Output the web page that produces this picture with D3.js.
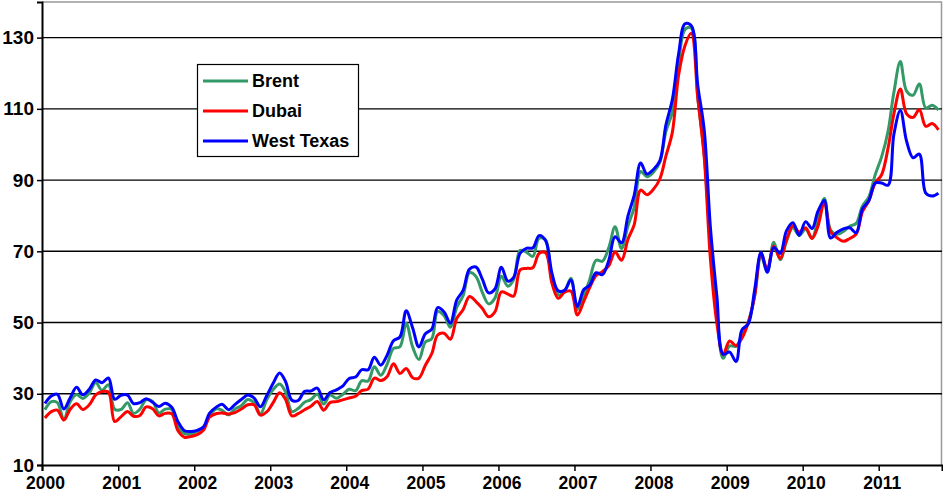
<!DOCTYPE html>
<html>
<head>
<meta charset="utf-8">
<script src="https://cdn.jsdelivr.net/npm/d3@7"></script>
<style>
  body { margin: 0; background: #fff; }
  text { font-family: "Liberation Sans", Arial, sans-serif; font-weight: bold; }
</style>
</head>
<body>
<div id="chart"></div>
<script>
var width = 943, height = 494;
var margin = {top: 2, right: 1, bottom: 29, left: 42};

// monthly averages, Jan 2000 - Oct 2011 (US$/barrel)
var brent = [
  25.51, 27.78, 27.49, 22.76, 27.74, 29.80, 28.68, 30.20, 33.14, 30.96, 32.55, 25.66,
  25.62, 27.50, 24.50, 25.66, 28.31, 27.85, 24.61, 25.68, 25.62, 20.54, 18.80, 18.71,
  19.42, 20.28, 23.70, 25.73, 25.35, 24.08, 25.74, 26.65, 28.40, 27.54, 24.34, 28.33,
  31.18, 32.77, 30.61, 25.00, 25.86, 27.65, 28.35, 29.89, 27.11, 29.61, 28.75, 29.81,
  31.28, 30.86, 33.63, 33.59, 37.57, 35.18, 38.22, 42.74, 43.20, 49.78, 43.11, 39.60,
  44.51, 45.48, 53.10, 51.88, 48.65, 54.35, 57.52, 63.98, 62.91, 58.54, 55.24, 56.86,
  62.99, 60.21, 62.06, 70.26, 69.78, 68.56, 73.67, 73.23, 61.96, 57.81, 58.76, 62.47,
  53.68, 57.56, 62.05, 67.49, 67.21, 71.05, 76.93, 70.76, 77.17, 82.34, 92.41, 90.93,
  92.18, 94.99, 103.64, 109.07, 122.80, 132.32, 132.72, 113.24, 97.23, 71.58, 52.45, 39.95,
  43.44, 43.32, 46.54, 50.18, 57.30, 68.61, 64.44, 72.51, 67.65, 72.77, 76.66, 74.46,
  76.17, 73.75, 78.83, 84.82, 75.95, 74.76, 75.58, 77.04, 77.84, 82.67, 85.28, 91.45,
  96.52, 103.72, 114.64, 123.26, 114.99, 113.83, 116.97, 110.22, 111.0, 109.7
];
var dubai = [
  23.2, 25.0, 25.4, 22.6, 25.6, 27.2, 25.6, 26.9, 29.7, 30.6, 30.5, 22.2,
  23.6, 25.0, 23.7, 23.9, 26.3, 25.8, 23.8, 24.5, 24.4, 19.6, 17.8, 18.0,
  18.5, 19.8, 23.4, 24.4, 24.6, 24.3, 24.7, 25.7, 26.9, 26.9, 24.0, 24.9,
  27.5, 30.3, 28.5, 23.8, 24.4, 25.5, 26.5, 27.8, 25.4, 27.5, 27.8, 28.3,
  28.8, 29.3, 30.9, 31.3, 34.4, 33.7, 34.8, 38.4, 35.7, 37.1, 34.5, 34.4,
  38.0, 41.3, 46.5, 47.0, 45.3, 51.2, 53.6, 57.3, 55.9, 54.0, 51.6, 53.0,
  58.6, 58.0, 57.4, 64.8, 65.2, 65.4, 69.4, 69.6, 61.0, 56.8, 58.5, 58.8,
  52.1, 56.0, 59.8, 63.2, 64.3, 66.0, 69.8, 67.5, 73.4, 77.5, 87.2, 85.9,
  87.4, 90.3, 96.7, 103.4, 119.4, 127.8, 131.2, 113.2, 96.5, 67.7, 49.7, 41.0,
  44.8, 43.5, 45.6, 50.1, 57.4, 69.4, 65.0, 71.4, 68.0, 73.2, 77.2, 75.4,
  76.6, 73.6, 77.0, 83.8, 75.5, 73.8, 72.8, 73.6, 74.8, 81.1, 84.2, 89.2,
  91.5, 99.0, 108.6, 115.6, 108.6, 107.6, 109.8, 105.1, 105.9, 104.1
];
var wti = [
  27.26, 29.37, 29.84, 25.72, 28.79, 31.82, 29.70, 31.26, 33.88, 33.11, 34.42, 28.44,
  29.59, 29.61, 27.25, 27.49, 28.63, 27.60, 26.43, 27.37, 26.20, 22.17, 19.64, 19.39,
  19.72, 20.72, 24.53, 26.18, 27.04, 25.52, 26.97, 28.39, 29.66, 28.84, 26.35, 29.46,
  32.95, 35.83, 33.51, 28.17, 28.11, 30.66, 30.76, 31.57, 28.31, 30.34, 31.11, 32.13,
  34.31, 34.69, 36.74, 36.75, 40.28, 38.03, 40.78, 44.90, 45.94, 53.28, 48.47, 43.15,
  46.84, 48.15, 54.19, 52.98, 49.83, 56.35, 59.00, 64.99, 65.59, 62.26, 58.32, 59.41,
  65.49, 61.63, 62.69, 69.44, 70.84, 70.95, 74.41, 73.04, 63.80, 58.89, 59.08, 61.96,
  54.51, 59.28, 60.44, 63.98, 63.46, 67.49, 74.12, 72.36, 79.92, 85.80, 94.77, 91.69,
  92.97, 95.39, 105.45, 112.58, 125.40, 133.88, 133.37, 116.67, 104.11, 76.61, 57.31, 41.12,
  41.71, 39.09, 47.94, 49.65, 59.03, 69.64, 64.15, 71.05, 69.41, 75.72, 77.99, 74.47,
  78.33, 76.39, 81.20, 84.29, 73.74, 75.34, 76.32, 76.60, 75.24, 81.89, 84.25, 89.15,
  89.17, 88.58, 102.86, 109.53, 100.90, 96.26, 97.30, 86.33, 85.52, 86.32
];

var series = [
  {name: "Brent", values: brent, color: "#339966"},
  {name: "Dubai", values: dubai, color: "#ff0000"},
  {name: "West Texas", values: wti, color: "#0000ff"}
];
var yTicks = [10, 30, 50, 70, 90, 110, 130];
var years = d3.range(2000, 2012);

// one point per month, placed mid-month
var months = brent.map(function(d, i) { return new Date(2000, i, 15); });

var svg = d3.select("#chart").append("svg")
  .attr("width", width)
  .attr("height", height);

var x = d3.scaleTime()
  .domain([new Date(2000, 0, 1), new Date(2011, 10, 1)])
  .range([margin.left, width - margin.right]);

var y = d3.scaleLinear()
  .domain([10, 140])
  .range([height - margin.bottom, margin.top]);

// plot frame (top & right, gray)
svg.append("path")
  .attr("d", `M${margin.left},${margin.top}H${width - margin.right - 0.5}V${height - margin.bottom}`)
  .attr("fill", "none")
  .attr("stroke", "#999")
  .attr("stroke-width", 1.5);

// gridlines
svg.append("g")
  .selectAll("line")
  .data(yTicks.slice(1))
  .enter().append("line")
    .attr("x1", margin.left)
    .attr("x2", width - margin.right)
    .attr("y1", function(d) { return y(d); })
    .attr("y2", function(d) { return y(d); })
    .attr("stroke", "#000")
    .attr("stroke-width", 1.4);

// Build Y axis
var yAxis = svg.append("g")
  .attr("transform", `translate(${margin.left},0)`)
  .call(d3.axisLeft(y).tickValues(yTicks).tickSize(5).tickPadding(3));

// Build X axis
var xAxis = svg.append("g")
  .attr("transform", `translate(0,${height - margin.bottom})`)
  .call(d3.axisBottom(x)
    .tickValues(years.map(function(d) { return new Date(d, 0, 1); }))
    .tickFormat(d3.timeFormat("%Y"))
    .tickSize(6).tickPadding(6));

[xAxis, yAxis].forEach(function(a) {
  a.select(".domain").attr("stroke", "#000").attr("stroke-width", 2);
  a.selectAll(".tick line").attr("stroke", "#000").attr("stroke-width", 1.5);
  a.selectAll(".tick text")
    .attr("fill", "#000")
    .style("font-family", '"Liberation Sans", Arial, sans-serif')
    .style("font-weight", "bold");
});
xAxis.selectAll(".tick text").attr("dx", 3).style("font-size", "17.5px");
yAxis.selectAll(".tick text").style("font-size", "19px");

// lines
var line = d3.line()
  .x(function(d, i) { return x(months[i]); })
  .y(function(d) { return y(d); })
  .curve(d3.curveCatmullRom);

svg.append("g")
  .selectAll("path")
  .data(series)
  .enter().append("path")
    .attr("d", function(s) { return line(s.values); })
    .attr("fill", "none")
    .attr("stroke", function(s) { return s.color; })
    .attr("stroke-width", 3)
    .attr("stroke-linejoin", "round");

// legend
var legend = svg.append("g")
  .attr("transform", "translate(197,64)");

legend.append("rect")
  .attr("x", 0.5).attr("y", 0.5)
  .attr("width", 161).attr("height", 92)
  .attr("fill", "#fff")
  .attr("stroke", "#000")
  .attr("stroke-width", 1.2);

var items = legend.selectAll(".item")
  .data(series)
  .enter().append("g")
    .attr("class", "item")
    .attr("transform", function(d, i) { return `translate(0,${17 + i * 30})`; });

items.append("line")
  .attr("x1", 6).attr("x2", 51)
  .attr("stroke", function(d) { return d.color; })
  .attr("stroke-width", 3);

items.append("text")
  .attr("x", 55)
  .attr("y", 6)
  .style("font-size", "18px")
  .text(function(d) { return d.name; });
</script>
</body>
</html>
